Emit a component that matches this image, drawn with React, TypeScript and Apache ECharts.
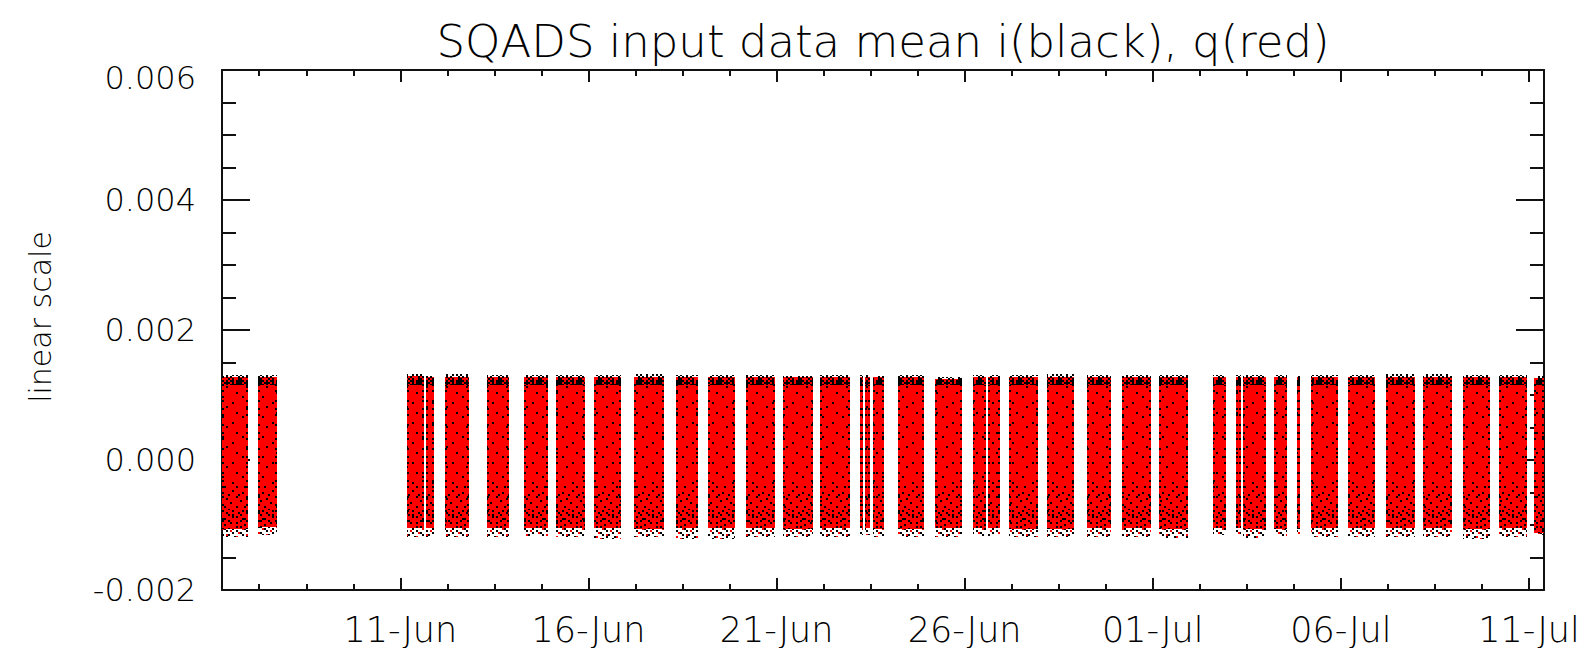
import React, { useEffect, useRef } from "react";
import * as echarts from "echarts";

// ---------- texts ----------
const TITLE = "SQADS input data mean i(black), q(red)";
const Y_NAME = "linear scale";

// ---------- x axis (day number counted from 1 June; 31 = 01-Jul) ----------
const X_MIN = 6.26;
const X_MAX = 41.4;
const majorTickDays = [11, 16, 21, 26, 31, 36, 41];
const majorTickLabels = ["11-Jun", "16-Jun", "21-Jun", "26-Jun", "01-Jul", "06-Jul", "11-Jul"];
const minorTickDays = [
  7.25, 8.5, 9.75, 12.25, 13.5, 14.75, 17.25, 18.5, 19.75, 22.25, 23.5, 24.75,
  27.25, 28.5, 29.75, 32.25, 33.5, 34.75, 37.25, 38.5, 39.75,
];

// ---------- y axis ----------
const Y_MIN = -0.002;
const Y_MAX = 0.006;
const Y_STEP = 0.002;

// ---------- data: observing passes (start / end, day of June) ----------
const passStart = [
  6.26, 7.22, 11.19, 11.69, 12.18, 13.3, 14.3, 15.15, 16.14, 17.2, 18.34, 19.19,
  20.2, 21.17, 22.16, 23.21, 23.36, 23.56, 24.22, 25.22, 26.21, 26.63, 27.19,
  28.19, 29.25, 30.18, 31.17, 32.59, 33.22, 33.41, 34.21, 34.83, 35.2, 36.2,
  37.2, 38.19, 39.24, 40.21, 41.14,
];
const passEnd = [
  6.94, 7.72, 11.62, 11.9, 12.82, 13.9, 14.93, 15.92, 16.87, 18.0, 18.9, 19.9,
  20.97, 21.96, 22.95, 23.29, 23.49, 23.86, 24.93, 25.93, 26.57, 26.93, 27.96,
  28.91, 29.89, 30.95, 31.95, 32.94, 33.34, 34.01, 34.58, 34.92, 35.92, 36.91,
  37.97, 38.95, 39.97, 40.94, 41.4,
];
// q (red) extent of each pass
const qMax = [
  0.00128, 0.00128, 0.00129, 0.00127, 0.00128, 0.00127, 0.00127, 0.00128,
  0.00128, 0.00128, 0.00127, 0.00128, 0.00127, 0.00127, 0.00128, 0.00128,
  0.00128, 0.00127, 0.00127, 0.00124, 0.00128, 0.00127, 0.00127, 0.00128,
  0.00128, 0.00127, 0.00127, 0.00128, 0.00128, 0.00127, 0.00128, 0.00128,
  0.00127, 0.00127, 0.00128, 0.00128, 0.00127, 0.00127, 0.00126,
];
const qMin = [
  -0.00106, -0.00103, -0.00104, -0.00105, -0.00105, -0.00104, -0.00105,
  -0.00105, -0.00105, -0.00106, -0.00105, -0.00105, -0.00105, -0.00106,
  -0.00105, -0.00105, -0.00104, -0.00106, -0.00106, -0.00105, -0.00104,
  -0.00105, -0.00106, -0.00106, -0.00105, -0.00105, -0.00106, -0.00105,
  -0.00105, -0.00106, -0.00106, -0.00106, -0.00105, -0.00105, -0.00105,
  -0.00105, -0.00106, -0.00105, -0.00112,
];
// i (black) extent of each pass
const iMax = [
  0.00131, 0.00131, 0.00132, 0.0013, 0.00132, 0.00131, 0.00131, 0.00131,
  0.00131, 0.00132, 0.00131, 0.00131, 0.00131, 0.0013, 0.00131, 0.00131,
  0.00131, 0.0013, 0.00131, 0.00128, 0.00131, 0.00131, 0.00131, 0.00132,
  0.00131, 0.00131, 0.00131, 0.00131, 0.00131, 0.00131, 0.00131, 0.0013,
  0.00131, 0.00131, 0.00132, 0.00132, 0.00131, 0.00131, 0.0013,
];
const iMin = [
  -0.00118, -0.00116, -0.00118, -0.00118, -0.00118, -0.00119, -0.00117,
  -0.00118, -0.00121, -0.00118, -0.00121, -0.00121, -0.00119, -0.00119,
  -0.00119, -0.00116, -0.00116, -0.00119, -0.00118, -0.00119, -0.00117,
  -0.00117, -0.00118, -0.00118, -0.00119, -0.00119, -0.0012, -0.00116,
  -0.00116, -0.0012, -0.00117, -0.00114, -0.00118, -0.00118, -0.00118,
  -0.00119, -0.00121, -0.00118, -0.00115,
];
// where the black i points are dense (top crust) and where they thin out
const I_DENSE_BELOW_TOP = 0.00116;
const I_SCATTER_TOP = -0.0004;
const I_DENSER_TOP = -0.00075;

// ---------- speckle textures (style) ----------
const crustRows = [
  "##.#.##.##",
  "#.###.#.##",
  "##.#.#####",
  "#.#.#.#.#.",
  ".#.##.#.#.",
  "#.#.#..#.#",
  ".#..#.#.#.",
  "#..#..#.#.",
  ".#.#.#...#",
  "#...#.#..#",
];
const midRows = [
  "..........",
  "......#...",
  "..........",
  "...#......",
  "..........",
  "..........",
  "........#.",
  "..........",
  ".#........",
  "..........",
];
const lowRows = [
  "#.........",
  ".....#....",
  "..........",
  "..#.....#.",
  "..........",
  "......#...",
  ".#........",
  "....#....#",
  "........#.",
  "...#......",
];
const lowerRows = [
  "#...#.....",
  ".....#..#.",
  "..#.......",
  "#.......#.",
  "....#.....",
  ".#....#...",
  "...#.....#",
  "#...#.#...",
  "......#.#.",
  ".##.......",
];
const fringeRows = [
  "#.r..#..r.",
  ".r.#...#..",
  "..#..r#...",
  "#...#...r#",
  ".r#...#...",
  "...#.r..#.",
  "#.....#..r",
  ".#.r#.....",
  "...#...#r.",
  "r#....#...",
];
const edgeRows = ["#", ".", ".", "#", ".", ".", ".", ".", "#", ".", ".", "."];

function makePattern(rows: string[], cell: number) {
  const w = rows[0].length * cell;
  const h = rows.length * cell;
  const c = document.createElement("canvas");
  c.width = w;
  c.height = h;
  const ctx = c.getContext("2d")!;
  rows.forEach((row, r) => {
    for (let k = 0; k < row.length; k++) {
      const ch = row[k];
      if (ch === "#") ctx.fillStyle = "#000000";
      else if (ch === "r") ctx.fillStyle = "#ff0000";
      else continue;
      ctx.fillRect(k * cell, r * cell, cell, cell);
    }
  });
  return { image: c, repeat: "repeat", imageWidth: w, imageHeight: h } as any;
}

const FONT = "DejaVu Sans";
const INK = "#000000";

export default function App() {
  const ref = useRef<HTMLDivElement>(null);

  useEffect(() => {
    const chart = echarts.init(ref.current!, null, { renderer: "svg" });
    const pCrust = makePattern(crustRows, 2);
    const pMid = makePattern(midRows, 2);
    const pLow = makePattern(lowRows, 2);
    const pLower = makePattern(lowerRows, 2);
    const pFringe = makePattern(fringeRows, 2);
    const pEdge = makePattern(edgeRows, 2);

    const data = passStart.map((s, k) => [s, passEnd[k], qMin[k], qMax[k], iMin[k], iMax[k]]);

    const axisLine = { show: true, onZero: false, lineStyle: { color: "#111111", width: 2 } };
    const tickLine = { color: "#111111", width: 2 };
    const xCommon = { type: "value", min: X_MIN, max: X_MAX, splitLine: { show: false } };
    const xMajor = (position: string, labels: boolean) => ({
      ...xCommon,
      position,
      axisLine,
      axisTick: { show: true, inside: true, length: 12, customValues: majorTickDays, lineStyle: tickLine },
      axisLabel: labels
        ? {
            show: true,
            customValues: majorTickDays,
            formatter: (v: number) => {
              const k = majorTickDays.findIndex((d) => Math.abs(d - v) < 1e-6);
              return k >= 0 ? majorTickLabels[k] : "";
            },
            margin: 22,
            fontSize: 35,
            lineHeight: 35,
            fontFamily: FONT,
            fontWeight: 200,
            color: INK,
          }
        : { show: false },
    });
    const xMinor = (position: string) => ({
      ...xCommon,
      position,
      axisLine: { show: false, onZero: false },
      axisTick: { show: true, inside: true, length: 6, customValues: minorTickDays, lineStyle: tickLine },
      axisLabel: { show: false },
    });
    const labelStyle = { fontSize: 32, fontFamily: FONT, fontWeight: 200, color: INK };
    const yAxisOf = (position: string, labels: boolean) => ({
      type: "value",
      min: Y_MIN,
      max: Y_MAX,
      interval: Y_STEP,
      position,
      axisLine,
      splitLine: { show: false },
      axisTick: { show: true, inside: true, length: 28, lineStyle: tickLine },
      minorTick: { show: true, splitNumber: 4, length: 14, lineStyle: tickLine },
      axisLabel: labels
        ? {
            show: true,
            formatter: (v: number) => {
              const s = (Math.abs(v) < 1e-12 ? 0 : v).toFixed(3);
              return Math.abs(v - Y_MAX) < 1e-9 ? `{top|${s}}` : s;
            },
            margin: 26,
            ...labelStyle,
            rich: { top: { ...labelStyle, padding: [16, 0, 0, 0] } },
          }
        : { show: false },
    });

    chart.setOption({
      animation: false,
      backgroundColor: "#ffffff",
      grid: { left: 222, right: 51, top: 70, bottom: 58 },
      xAxis: [xMajor("bottom", true), xMinor("bottom"), xMajor("top", false), xMinor("top")],
      yAxis: [yAxisOf("left", true), yAxisOf("right", false)],
      graphic: [
        {
          type: "text",
          x: 883,
          y: 41,
          style: {
            text: TITLE,
            fontSize: 45,
            fontFamily: FONT,
            fontWeight: 200,
            fill: INK,
            textAlign: "center",
            textVerticalAlign: "middle",
          },
        },
        {
          type: "text",
          x: 40,
          y: 317,
          rotation: Math.PI / 2,
          style: {
            text: Y_NAME,
            fontSize: 30,
            fontFamily: FONT,
            fontWeight: 200,
            fill: INK,
            textAlign: "center",
            textVerticalAlign: "middle",
          },
        },
      ],
      series: [
        {
          type: "custom",
          xAxisIndex: 0,
          yAxisIndex: 0,
          encode: { x: [0, 1], y: [2, 3, 4, 5] },
          data,
          renderItem: (_params: any, api: any) => {
            const x0 = api.value(0);
            const x1 = api.value(1);
            const lo = api.value(2);
            const hi = api.value(3);
            const iLo = api.value(4);
            const iHi = api.value(5);
            const box = (ya: number, yb: number) => {
              const tl = api.coord([x0, yb]);
              const br = api.coord([x1, ya]);
              const left = Math.round(tl[0]);
              const right = Math.max(Math.round(br[0]), left + 2);
              return { x: left, y: Math.round(tl[1]), width: right - left, height: Math.round(br[1]) - Math.round(tl[1]) };
            };
            const whole = box(lo, I_DENSE_BELOW_TOP);
            const edgeL = { x: whole.x, y: whole.y, width: 2, height: whole.height };
            const edgeR = { x: whole.x + whole.width - 2, y: whole.y, width: 2, height: whole.height };
            return {
              type: "group",
              children: [
                { type: "rect", shape: box(lo, hi), style: { fill: "#ff0000", lineWidth: 0 } },
                { type: "rect", shape: box(I_SCATTER_TOP, I_DENSE_BELOW_TOP), style: { fill: pMid, lineWidth: 0 } },
                { type: "rect", shape: box(I_DENSER_TOP, I_SCATTER_TOP), style: { fill: pLow, lineWidth: 0 } },
                { type: "rect", shape: box(lo, I_DENSER_TOP), style: { fill: pLower, lineWidth: 0 } },
                { type: "rect", shape: edgeL, style: { fill: pEdge, lineWidth: 0 } },
                { type: "rect", shape: edgeR, style: { fill: pEdge, lineWidth: 0 } },
                { type: "rect", shape: box(I_DENSE_BELOW_TOP, iHi), style: { fill: pCrust, lineWidth: 0 } },
                { type: "rect", shape: box(iLo, lo), style: { fill: pFringe, lineWidth: 0 } },
              ],
            };
          },
        },
      ],
    });
    return () => chart.dispose();
  }, []);

  return (
    <div
      ref={ref}
      style={{ position: "fixed", left: 0, top: 0, width: 1595, height: 648, background: "#fff" }}
    />
  );
}
